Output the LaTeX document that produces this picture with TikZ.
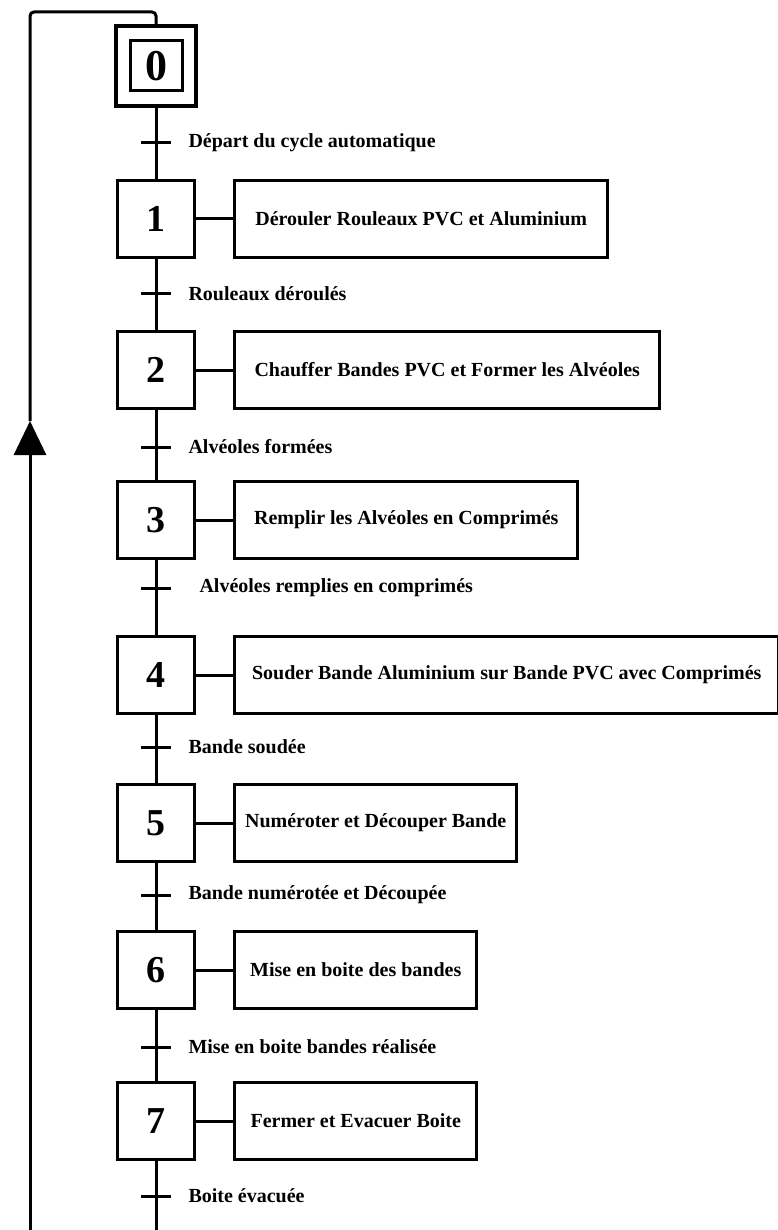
\documentclass[tikz,border=0pt]{standalone}
\usepackage{fontspec}
\setmainfont{Liberation Serif}
\usetikzlibrary{arrows.meta,positioning}

\begin{document}
\begin{tikzpicture}[x=1pt,y=-1pt,line width=3pt,
    etape/.style={draw,line width=3.5pt,minimum width=77pt,minimum height=77pt,inner sep=0pt,font=\fontsize{38}{40}\selectfont\bfseries},
    action/.style={draw,line width=3pt,minimum height=77pt,inner sep=0pt,font=\fontsize{20}{24}\selectfont\bfseries},
    recept/.style={inner sep=0pt,font=\fontsize{20}{24}\selectfont\bfseries}]
  \useasboundingbox (0,0) rectangle (778,1230);
  % etape initiale
  \node[etape,minimum width=80pt,minimum height=80pt,line width=4pt] (s0) at (156,66) {};
  \node[draw,line width=3pt,minimum width=52pt,minimum height=50pt,inner sep=0pt,font=\fontsize{44}{46}\selectfont\bfseries] (s0in) at (s0.center) {0};
  % etapes et actions
  \foreach \n/\y/\w/\t in {1/219/373/Dérouler Rouleaux PVC et Aluminium,
      2/370/425/Chauffer Bandes PVC et Former les Alvéoles,
      3/520/343/Remplir les Alvéoles en Comprimés,
      4/675/544/Souder Bande Aluminium sur Bande PVC avec Comprimés,
      5/823/282/Numéroter et Découper Bande,
      6/970/242/Mise en boite des bandes,
      7/1121/242/Fermer et Evacuer Boite}{
    \node[etape] (s\n) at (156,\y) {\n};
    \node[action,minimum width=\w pt,right=37pt of s\n] (a\n) {\t};
    \draw (s\n) -- (a\n);
  }
  \foreach \n/\m in {0/1,1/2,2/3,3/4,4/5,5/6,6/7}
    \draw (s\n) -- (s\m);
  \coordinate (fin) at (156,1236);
  \draw (s7) -- (fin);
  % receptivites
  \foreach \n/\y/\d/\t in {0/143/16/Départ du cycle automatique,
      1/294/16/Rouleaux déroulés,
      2/447/16/Alvéoles formées,
      3/588/27/Alvéoles remplies en comprimés,
      4/747/16/Bande soudée,
      5/895/16/Bande numérotée et Découpée,
      6/1047/16/Mise en boite bandes réalisée,
      7/1196/16/Boite évacuée}{
    \coordinate (t\n) at (156,\y);
    \draw ([xshift=-15pt]t\n) -- ([xshift=15pt]t\n);
    \node[recept,right=\d pt of {[xshift=15pt]t\n}] (r\n) {\t};
  }
  % bouclage
  \coordinate (bg) at (30,1236);
  \coordinate (fl) at (30,421);
  \coordinate (hg) at (30,12);
  \draw[-{Triangle[length=34pt,width=32pt]}] (bg) -- (fl);
  \draw[rounded corners=4pt] (fl) -- (hg) -| (s0.north);
\end{tikzpicture}
\end{document}
